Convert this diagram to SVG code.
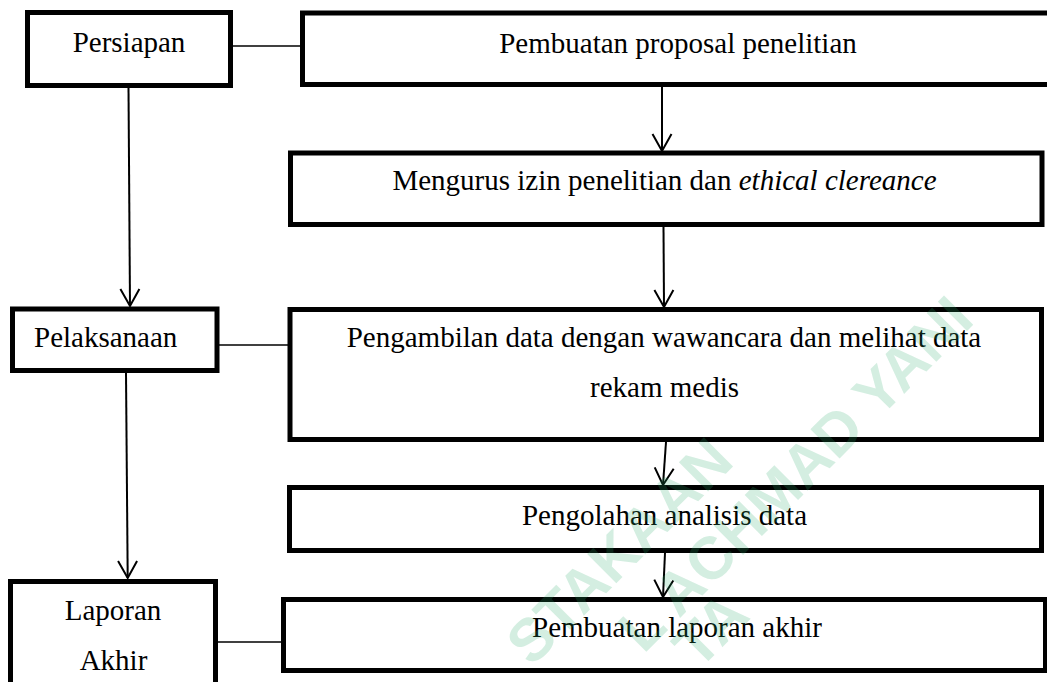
<svg xmlns="http://www.w3.org/2000/svg" width="1047" height="682" viewBox="0 0 1047 682">
<style>
.box{fill:#fff;stroke:#000;stroke-width:5}
.t{font-family:"Liberation Serif","Times New Roman",serif;font-size:29px;fill:#000}
.c{text-anchor:middle}
.ln{stroke:#000;stroke-width:2;fill:none}
.hl{stroke:#000;stroke-width:1.6;fill:none}
.wm{font-family:"Liberation Sans",Arial,sans-serif;font-weight:bold;font-size:60px;fill:#2aa86a;fill-opacity:0.2;text-anchor:end}
</style>
<defs>
<marker id="arr" markerUnits="userSpaceOnUse" markerWidth="40" markerHeight="40" refX="0" refY="0" orient="auto" overflow="visible">
<path d="M-17,-9.5 L0,0 L-17,9.5" fill="none" stroke="#000" stroke-width="2"/>
</marker>
</defs>
<rect width="1047" height="682" fill="#fff"/>
<g id="connectors">
<line class="hl" x1="233" y1="46" x2="300" y2="46"/>
<line class="hl" x1="219" y1="345" x2="288" y2="345"/>
<line class="hl" x1="218" y1="642" x2="281" y2="642"/>
<line class="ln" x1="128.5" y1="88" x2="130" y2="306" marker-end="url(#arr)"/>
<line class="ln" x1="126" y1="373" x2="127.7" y2="578" marker-end="url(#arr)"/>
<line class="ln" x1="662" y1="87" x2="662" y2="151" marker-end="url(#arr)"/>
<line class="ln" x1="663.5" y1="227" x2="664" y2="307" marker-end="url(#arr)"/>
<line class="ln" x1="666" y1="442" x2="663" y2="485" marker-end="url(#arr)"/>
<line class="ln" x1="665" y1="553" x2="663" y2="597" marker-end="url(#arr)"/>
</g>
<g id="persiapan">
<rect class="box" x="27.5" y="12.5" width="203" height="73"/>
<text class="t c" x="129" y="52">Persiapan</text>
</g>
<g id="proposal">
<rect class="box" x="302.5" y="13" width="760" height="71.5"/>
<text class="t c" x="678" y="53">Pembuatan proposal penelitian</text>
</g>
<g id="izin">
<rect class="box" x="290.5" y="153" width="751.5" height="71.5"/>
<text class="t c" x="664.5" y="190">Mengurus izin penelitian dan <tspan font-style="italic">ethical clereance</tspan></text>
</g>
<g id="pelaksanaan">
<rect class="box" x="12.5" y="309" width="204.5" height="61.5"/>
<text class="t" x="34" y="347">Pelaksanaan</text>
</g>
<g id="pengambilan">
<rect class="box" x="290" y="309.5" width="751.5" height="130"/>
<text class="t c" x="664" y="347">Pengambilan data dengan wawancara dan melihat data</text>
<text class="t c" x="664.5" y="397">rekam medis</text>
</g>
<g id="pengolahan">
<rect class="box" x="289.5" y="487.5" width="752" height="63"/>
<text class="t c" x="664.5" y="525">Pengolahan analisis data</text>
</g>
<g id="laporan-akhir">
<rect class="box" x="10.5" y="581.5" width="205" height="120"/>
<text class="t c" x="113" y="620">Laporan</text>
<text class="t c" x="113.5" y="670">Akhir</text>
</g>
<g id="pembuatan-laporan">
<rect class="box" x="283.5" y="599.5" width="762" height="71"/>
<text class="t c" x="677" y="637">Pembuatan laporan akhir</text>
</g>
<g id="watermark">
<text class="wm" font-size="58" transform="translate(736,463.5) rotate(-45)">STAKAAN</text>
<text class="wm" font-size="58" transform="translate(976,322) rotate(-45)">L ACHMAD YANI</text>
<text class="wm" transform="translate(752,617.5) rotate(-45)">TA</text>
</g>
</svg>
